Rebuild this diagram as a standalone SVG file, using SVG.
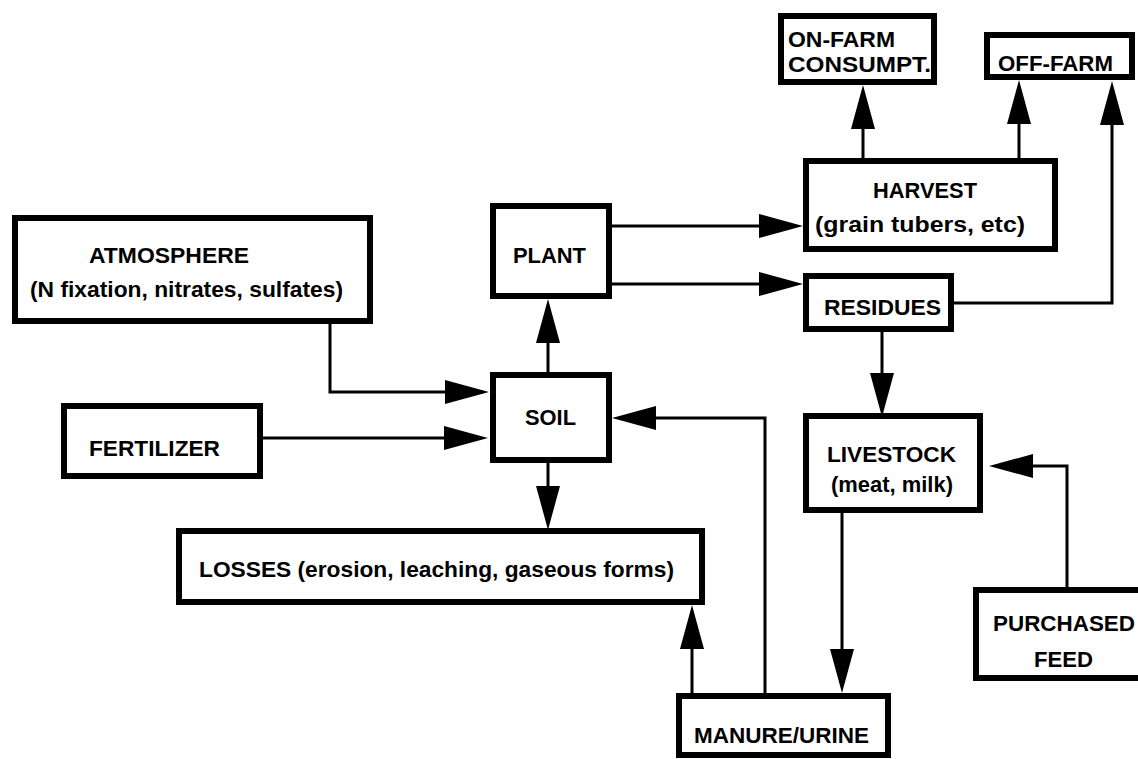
<svg xmlns="http://www.w3.org/2000/svg" width="1138" height="759" viewBox="0 0 1138 759">
<style>
.box{fill:#fff;stroke:#000;stroke-width:6}
.t{font-family:"Liberation Sans",Arial,sans-serif;font-weight:bold;font-size:22.5px;fill:#000}
.c{fill:none;stroke:#000;stroke-width:3;marker-end:url(#ah)}
</style>
<defs>
<marker id="ah" markerUnits="userSpaceOnUse" markerWidth="44" markerHeight="24" refX="0" refY="12" orient="auto" overflow="visible">
<path d="M0,0 L44,12 L0,24 Z" fill="#000"/>
</marker>
</defs>
<rect width="1138" height="759" fill="#fff"/>
<g id="connectors">
<path class="c" d="M548,372 V343"/>
<path class="c" d="M330,324 V392 H445"/>
<path class="c" d="M263,438 H444"/>
<path class="c" d="M765,693 V418 H656"/>
<path class="c" d="M548,463 V486"/>
<path class="c" d="M692,693 V649"/>
<path class="c" d="M612,226 H759"/>
<path class="c" d="M612,284 H759"/>
<path class="c" d="M882,332 V373"/>
<path class="c" d="M842,513 V649"/>
<path class="c" d="M1067,587 V466 H1033"/>
<path class="c" d="M954,303 H1112 V125"/>
<path class="c" d="M863,158 V129"/>
<path class="c" d="M1019,158 V124"/>
</g>
<g id="onfarm"><rect class="box" x="781" y="16" width="153" height="66"/>
<text class="t" x="788" y="47" textLength="107" lengthAdjust="spacingAndGlyphs">ON-FARM</text>
<text class="t" x="788" y="72" textLength="143" lengthAdjust="spacingAndGlyphs">CONSUMPT.</text></g>
<g id="offfarm"><rect class="box" x="987" y="35" width="145" height="42"/>
<text class="t" x="998" y="71" textLength="115" lengthAdjust="spacingAndGlyphs">OFF-FARM</text></g>
<g id="harvest"><rect class="box" x="806" y="161" width="249" height="88"/>
<text class="t" x="873" y="198" textLength="104" lengthAdjust="spacingAndGlyphs">HARVEST</text>
<text class="t" x="815" y="232" textLength="210" lengthAdjust="spacingAndGlyphs">(grain tubers, etc)</text></g>
<g id="atmosphere"><rect class="box" x="15" y="218" width="355" height="103"/>
<text class="t" x="89" y="263" textLength="160" lengthAdjust="spacingAndGlyphs">ATMOSPHERE</text>
<text class="t" x="30" y="297" textLength="313" lengthAdjust="spacingAndGlyphs">(N fixation, nitrates, sulfates)</text></g>
<g id="fertilizer"><rect class="box" x="64" y="406" width="196" height="70"/>
<text class="t" x="89" y="456" textLength="131" lengthAdjust="spacingAndGlyphs">FERTILIZER</text></g>
<g id="plant"><rect class="box" x="493" y="206" width="116" height="90"/>
<text class="t" x="513" y="263" textLength="73" lengthAdjust="spacingAndGlyphs">PLANT</text></g>
<g id="soil"><rect class="box" x="493" y="375" width="116" height="85"/>
<text class="t" x="525" y="425" textLength="51" lengthAdjust="spacingAndGlyphs">SOIL</text></g>
<g id="residues"><rect class="box" x="806" y="276" width="145" height="53"/>
<text class="t" x="824" y="315" textLength="117" lengthAdjust="spacingAndGlyphs">RESIDUES</text></g>
<g id="livestock"><rect class="box" x="806" y="416" width="174" height="94"/>
<text class="t" x="827" y="462" textLength="129" lengthAdjust="spacingAndGlyphs">LIVESTOCK</text>
<text class="t" x="831" y="492" textLength="122" lengthAdjust="spacingAndGlyphs">(meat, milk)</text></g>
<g id="losses"><rect class="box" x="179" y="531" width="523" height="71"/>
<text class="t" x="199" y="577" textLength="475" lengthAdjust="spacingAndGlyphs">LOSSES (erosion, leaching, gaseous forms)</text></g>
<g id="manure"><rect class="box" x="679" y="696" width="209" height="59"/>
<text class="t" x="694" y="743" textLength="175" lengthAdjust="spacingAndGlyphs">MANURE/URINE</text></g>
<g id="purchased"><rect class="box" x="976" y="590" width="170" height="88"/>
<text class="t" x="993" y="631" textLength="142" lengthAdjust="spacingAndGlyphs">PURCHASED</text>
<text class="t" x="1034" y="667" textLength="59" lengthAdjust="spacingAndGlyphs">FEED</text></g>
</svg>
